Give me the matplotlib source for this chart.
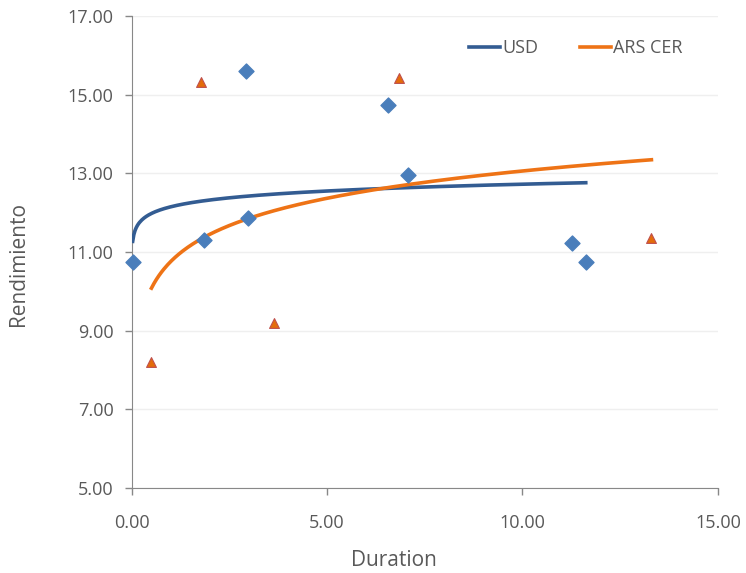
import numpy as np
import matplotlib.pyplot as plt

# data
usd_x = [0.03, 1.86, 2.92, 2.97, 6.56, 7.07, 11.26, 11.62]
usd_y = [10.75, 11.30, 15.60, 11.86, 14.74, 12.96, 11.23, 10.75]
cer_x = [0.51, 1.78, 3.64, 6.84, 13.30]
cer_y = [8.20, 15.32, 9.19, 15.42, 11.36]

x_ticks = [0, 5, 10, 15]
y_ticks = [5, 7, 9, 11, 13, 15, 17]

plt.rcParams['font.family'] = ['Open Sans', 'DejaVu Sans']
gray = '#595959'

fig = plt.figure(figsize=(7.46, 5.73), dpi=100)
ax = fig.add_axes([0.1763, 0.1483, 0.786, 0.8237])


def log_trend(x, y):
    b, a = np.polyfit(np.log(x), y, 1)
    xs = np.linspace(min(x), max(x), 400)
    return xs, a + b * np.log(xs)


xs, ys = log_trend(usd_x, usd_y)
ax.plot(xs, ys, color='#335C92', lw=2.6, label='USD', zorder=3)
xs, ys = log_trend(cer_x, cer_y)
ax.plot(xs, ys, color='#EE7316', lw=2.6, label='ARS CER', zorder=3)

ax.scatter(usd_x, usd_y, marker='D', s=58, color='#4A7EBB', edgecolor='#4A7EBB',
           zorder=4, clip_on=False)
ax.scatter(cer_x, cer_y, marker='^', s=50, color='#E46C0A', edgecolor='#C0504D', lw=0.8,
           zorder=4, clip_on=False)

ax.set_xlim(0, 15)
ax.set_ylim(5, 17)
ax.set_xticks(x_ticks)
ax.set_yticks(y_ticks)
ax.set_xticklabels([f'{v:.2f}' for v in x_ticks])
ax.set_yticklabels([f'{v:.2f}' for v in y_ticks])
ax.grid(axis='y', color='#EFEFEF', lw=1)
ax.set_axisbelow(True)

for s in ['top', 'right']:
    ax.spines[s].set_visible(False)
for s in ['left', 'bottom']:
    ax.spines[s].set_color('#888888')
ax.tick_params(colors='#888888', labelcolor=gray, labelsize=13, length=5, width=1)
ax.tick_params(axis='x', pad=14)
ax.tick_params(axis='y', pad=8)

ax.set_xlabel('Duration', fontsize=15, color=gray)
ax.xaxis.set_label_coords(0.447, -0.131)
ax.set_ylabel('Rendimiento', fontsize=15, color=gray)
ax.yaxis.set_label_coords(-0.175, 0.475)

leg = ax.legend(loc='upper right', bbox_to_anchor=(0.968, 0.985), ncol=2, frameon=False,
                fontsize=13, handlelength=1.7, handletextpad=0.15, columnspacing=2.3)
for t in leg.get_texts():
    t.set_color(gray)

fig.savefig('out.png', dpi=100)
